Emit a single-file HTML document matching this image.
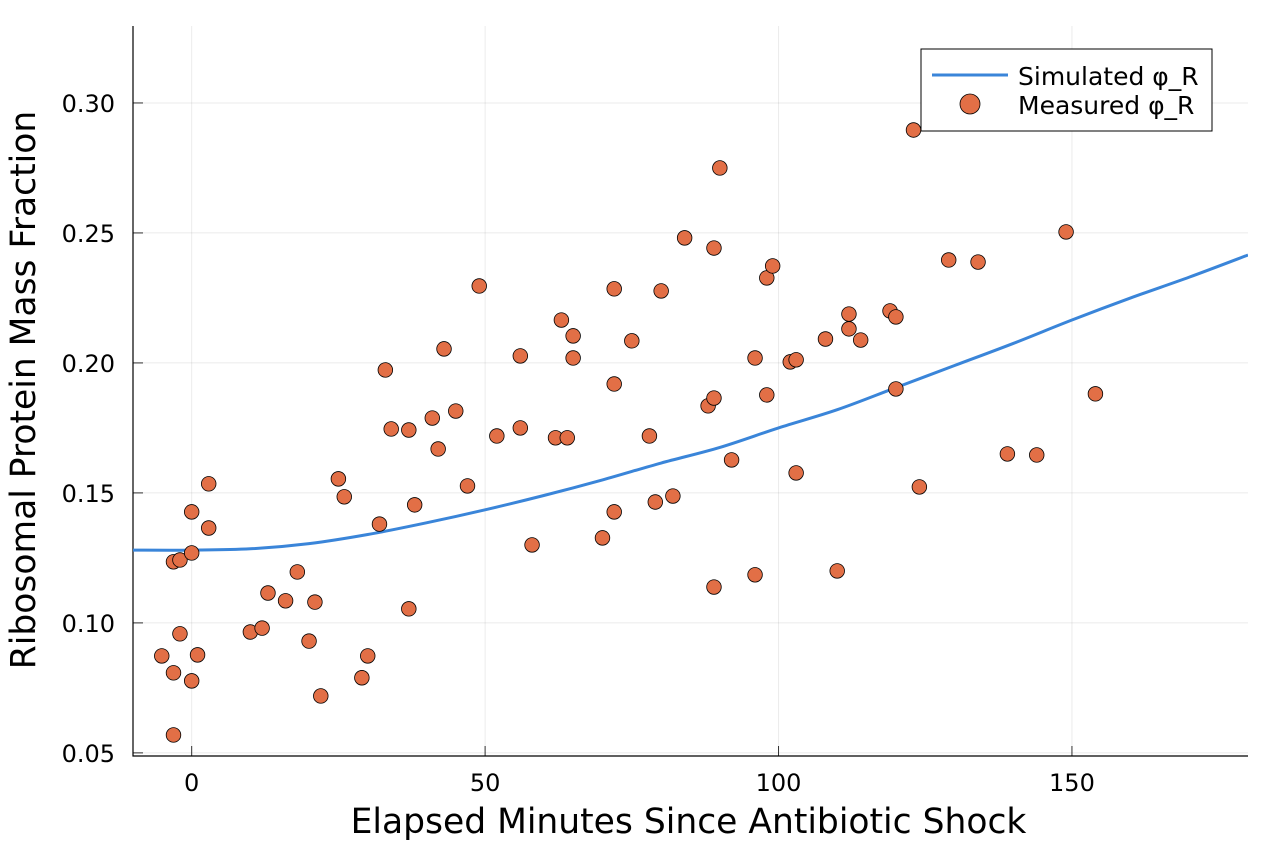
<!DOCTYPE html>
<html><head><meta charset="utf-8"><style>
body{margin:0;background:#fff;}
svg{display:block;font-family:"DejaVu Sans","Liberation Sans",sans-serif;}
</style></head><body>
<svg id="c" width="1274" height="850"></svg>
<script>
const xTicks=[0,50,100,150];
const yTicks=[0.05,0.10,0.15,0.20,0.25,0.30];
const yTickLabels=["0.05","0.10","0.15","0.20","0.25","0.30"];
const curveX=[-10,0,10,20,30,40,50,60,70,80,90,100,110,120,130,140,150,160,170,180];
const curveY=[0.128,0.128,0.1285,0.1305,0.134,0.1385,0.1435,0.149,0.155,0.1615,0.1675,0.175,0.182,0.1905,0.199,0.2075,0.2165,0.225,0.233,0.2415];
const ptX=[-5.1,-3.1,-2,-3.1,-2,-3.1,0,0,0,1,2.9,2.9,10,12,13,16,18,20,21,22,25,26,29,30,32,33,34,37,37,38,41,42,43,45,47,49,52,56,56,58,62,63,64,65,65,70,72,72,72,75,78,79,80,82,84,88,89,89,89,90,92,96,96,98,98,99,102,103,103,108,110,112,112,114,119,120,120,123,124,129,134,139,144,149,154];
const ptY=[0.0873,0.1235,0.1242,0.0808,0.0958,0.0569,0.1427,0.1269,0.0777,0.0877,0.1535,0.1365,0.0965,0.098,0.1115,0.1085,0.1196,0.093,0.108,0.0719,0.1554,0.1485,0.0789,0.0873,0.138,0.1973,0.1746,0.1742,0.1054,0.1454,0.1788,0.1669,0.2054,0.1815,0.1527,0.2296,0.1719,0.2027,0.175,0.13,0.1712,0.2165,0.1712,0.2104,0.2019,0.1327,0.2285,0.1919,0.1427,0.2085,0.1719,0.1465,0.2277,0.1488,0.2481,0.1835,0.2442,0.1865,0.1138,0.275,0.1627,0.2019,0.1185,0.2327,0.1877,0.2373,0.2004,0.2012,0.1577,0.2092,0.12,0.2188,0.2131,0.2088,0.22,0.2177,0.19,0.2896,0.1523,0.2396,0.2388,0.165,0.1646,0.2504,0.1881];

const L=133,R=1248,T=26,B=756;
const x0=-10,x1=180,y0=0.0488,y1=0.3296;
const sx=v=>L+(v-x0)/(x1-x0)*(R-L);
const sy=v=>B-(v-y0)/(y1-y0)*(B-T);
const NS="http://www.w3.org/2000/svg";
const svg=document.getElementById('c');
function mk(t,a,p){const e=document.createElementNS(NS,t);for(const k in a)e.setAttribute(k,a[k]);(p||svg).appendChild(e);return e;}

xTicks.forEach((v,i)=>{
 const g=mk('line',{x1:sx(v),x2:sx(v),y1:T,y2:B,stroke:'#000','stroke-opacity':0.08,'stroke-width':1});
 
 
 const tk=mk('line',{x1:sx(v),x2:sx(v),y1:B,y2:B-10,stroke:'#000','stroke-opacity':0.8});
 
 
 const t=mk('text',{x:sx(v),y:B+35,'text-anchor':'middle','font-size':24});
 t.textContent=String(v);
 
 
});
yTicks.forEach((v,i)=>{
 const g=mk('line',{x1:L,x2:R,y1:sy(v),y2:sy(v),stroke:'#000','stroke-opacity':0.08,'stroke-width':1});
 
 
 const tk=mk('line',{x1:L,x2:L+10,y1:sy(v),y2:sy(v),stroke:'#000','stroke-opacity':0.8});
 
 
 const t=mk('text',{x:L-18,y:sy(v)+9,'text-anchor':'end','font-size':24});
 t.textContent=yTickLabels[i];
 
 
});
const ax=mk('path',{d:`M${L},${T}V${B}H${R}`,fill:'none',stroke:'#000','stroke-width':1.2});



const clip=mk('g',{});
const cp=mk('clipPath',{id:'cp'});mk('rect',{x:L,y:T,width:R-L,height:B-T},cp);
clip.setAttribute('clip-path','url(#cp)');
const P=curveX.map((v,i)=>[sx(v),sy(curveY[i])]);
let d=`M${P[0][0]},${P[0][1]}`;
for(let i=0;i<P.length-1;i++){
 const p0=P[Math.max(0,i-1)],p1=P[i],p2=P[i+1],p3=P[Math.min(P.length-1,i+2)];
 d+=`C${p1[0]+(p2[0]-p0[0])/6},${p1[1]+(p2[1]-p0[1])/6} ${p2[0]-(p3[0]-p1[0])/6},${p2[1]-(p3[1]-p1[1])/6} ${p2[0]},${p2[1]}`;
}
const line=mk('path',{d:d,fill:'none',stroke:'#3a85d9','stroke-width':3},clip);


ptX.forEach((v,i)=>{
 const c=mk('circle',{cx:sx(v),cy:sy(ptY[i]),r:7.3,fill:'#e26f46',stroke:'#000','stroke-width':0.8});
 
 
});

const xt=mk('text',{x:(L+R)/2-2,y:833,'text-anchor':'middle','font-size':34.5});
xt.textContent='Elapsed Minutes Since Antibiotic Shock';


const yt=mk('text',{x:0,y:0,'text-anchor':'middle','font-size':34.5,transform:`translate(35,${(T+B)/2-1}) rotate(-90)`});
yt.textContent='Ribosomal Protein Mass Fraction';



const lg=mk('g',{});


mk('rect',{x:921,y:49,width:291,height:82,fill:'#fff',stroke:'#000','stroke-width':1},lg);
const ll=mk('line',{x1:932,x2:1008,y1:75,y2:75,stroke:'#3a85d9','stroke-width':3},lg);


const lc=mk('circle',{cx:970,cy:104,r:10,fill:'#e26f46',stroke:'#000','stroke-width':0.8},lg);


const l1=mk('text',{x:1018,y:85,'font-size':25},lg);l1.textContent='Simulated φ_R';


const l2=mk('text',{x:1018,y:114,'font-size':25},lg);l2.textContent='Measured φ_R';


</script>
</body></html>
